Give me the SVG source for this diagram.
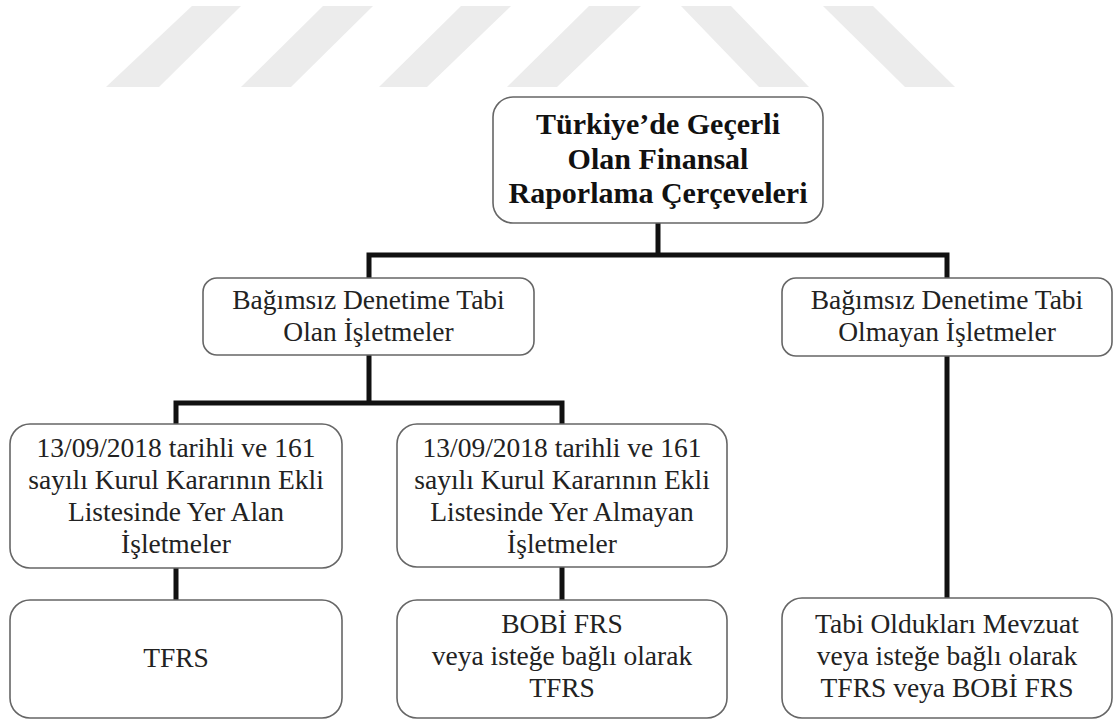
<svg xmlns="http://www.w3.org/2000/svg" width="1113" height="720" viewBox="0 0 1113 720">
<style>
.box{fill:#fff;stroke:#666;stroke-width:1.6}
.t{font-size:27.5px;fill:#222;text-anchor:middle}
.b{font-weight:bold;font-size:30px;fill:#111}
.wm{fill:#ececec}
.c{fill:none;stroke:#111;stroke-width:5;stroke-linecap:square}
</style>
<rect width="1113" height="720" fill="#fff"/>
<g id="watermark">
<polygon class="wm" points="192,6 241,6 159,87 106,87"/>
<polygon class="wm" points="323,6 373,6 291,87 241,87"/>
<polygon class="wm" points="461,6 511,6 427,87 379,87"/>
<polygon class="wm" points="589,6 641,6 557,87 507,87"/>
<polygon class="wm" points="681,6 731,6 809,87 759,87"/>
<polygon class="wm" points="823,6 873,6 955,87 905,87"/>
</g>
<g id="connectors">
<path class="c" d="M658,223 V255 M369,255 H947 M369,255 V278 M947,255 V278"/>
<path class="c" d="M369,355 V403 M176,403 H562 M176,403 V424 M562,403 V424"/>
<path class="c" d="M176,568 V600 M562,567 V600 M947,356 V598"/>
</g>
<g id="root">
<rect class="box" x="493" y="97" width="330" height="126" rx="20"/>
<text class="t b" style="font-family:'Liberation Serif',serif" x="658" y="134">Türkiye’de Geçerli</text>
<text class="t b" style="font-family:'Liberation Serif',serif" x="658" y="168.5">Olan Finansal</text>
<text class="t b" style="font-family:'Liberation Serif',serif" x="658" y="203">Raporlama Çerçeveleri</text>
</g>
<g id="audited">
<rect class="box" x="203" y="278" width="331" height="77" rx="14"/>
<text class="t" style="font-family:'Liberation Serif',serif" x="368.5" y="309">Bağımsız Denetime Tabi</text>
<text class="t" style="font-family:'Liberation Serif',serif" x="368.5" y="341">Olan İşletmeler</text>
</g>
<g id="not-audited">
<rect class="box" x="782" y="278" width="330" height="78" rx="14"/>
<text class="t" style="font-family:'Liberation Serif',serif" x="947" y="309">Bağımsız Denetime Tabi</text>
<text class="t" style="font-family:'Liberation Serif',serif" x="947" y="341">Olmayan İşletmeler</text>
</g>
<g id="listed">
<rect class="box" x="10" y="424" width="332" height="144" rx="20"/>
<text class="t" style="font-family:'Liberation Serif',serif" x="176" y="457">13/09/2018 tarihli ve 161</text>
<text class="t" style="font-family:'Liberation Serif',serif" x="176" y="489">sayılı Kurul Kararının Ekli</text>
<text class="t" style="font-family:'Liberation Serif',serif" x="176" y="521">Listesinde Yer Alan</text>
<text class="t" style="font-family:'Liberation Serif',serif" x="176" y="553">İşletmeler</text>
</g>
<g id="not-listed">
<rect class="box" x="397" y="424" width="330" height="143" rx="20"/>
<text class="t" style="font-family:'Liberation Serif',serif" x="562" y="457">13/09/2018 tarihli ve 161</text>
<text class="t" style="font-family:'Liberation Serif',serif" x="562" y="489">sayılı Kurul Kararının Ekli</text>
<text class="t" style="font-family:'Liberation Serif',serif" x="562" y="521">Listesinde Yer Almayan</text>
<text class="t" style="font-family:'Liberation Serif',serif" x="562" y="553">İşletmeler</text>
</g>
<g id="tfrs">
<rect class="box" x="10" y="600" width="332" height="118" rx="20"/>
<text class="t" style="font-family:'Liberation Serif',serif" x="176" y="667">TFRS</text>
</g>
<g id="bobi">
<rect class="box" x="397" y="600" width="330" height="118" rx="20"/>
<text class="t" style="font-family:'Liberation Serif',serif" x="562" y="633">BOBİ FRS</text>
<text class="t" style="font-family:'Liberation Serif',serif" x="562" y="665">veya isteğe bağlı olarak</text>
<text class="t" style="font-family:'Liberation Serif',serif" x="562" y="697">TFRS</text>
</g>
<g id="mevzuat">
<rect class="box" x="782" y="598" width="330" height="120" rx="20"/>
<text class="t" style="font-family:'Liberation Serif',serif" x="947" y="633">Tabi Oldukları Mevzuat</text>
<text class="t" style="font-family:'Liberation Serif',serif" x="947" y="665">veya isteğe bağlı olarak</text>
<text class="t" style="font-family:'Liberation Serif',serif" x="947" y="697">TFRS veya BOBİ FRS</text>
</g>
</svg>
